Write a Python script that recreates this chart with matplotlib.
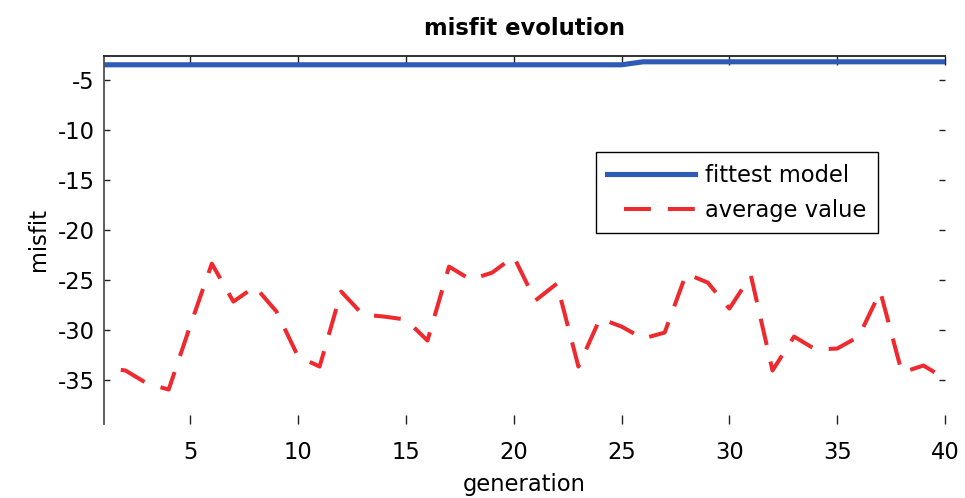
import matplotlib
matplotlib.use("Agg")
import matplotlib.pyplot as plt

plt.rcParams["font.family"] = ["DejaVu Sans"]
plt.rcParams["lines.scale_dashes"] = False
plt.rcParams["axes.unicode_minus"] = False

# generation index
generation = list(range(1, 41))

# best misfit of each generation
fittest_model = [-3.5] * 25 + [-3.2] * 15

# mean misfit of the population
average_value = [
    -33.8, -34.1, -35.4, -36.0, -29.6, -23.4, -27.2, -25.7, -28.2, -32.7,
    -33.7, -26.2, -28.5, -28.7, -29.0, -31.1, -23.7, -25.0, -24.3, -22.7,
    -27.1, -25.4, -33.7, -28.9, -29.7, -30.9, -30.3, -24.4, -25.3, -27.9,
    -24.6, -34.1, -30.7, -32.0, -31.9, -30.7, -26.2, -34.3, -33.6, -34.9,
]

x_ticks = [5, 10, 15, 20, 25, 30, 35, 40]
y_ticks = [-35, -30, -25, -20, -15, -10, -5]

FS = 16.3
W, H = 965, 498
fig = plt.figure(figsize=(W / 100, H / 100), dpi=100)
ax = fig.add_axes([104 / W, 1 - 424 / H, (945 - 104) / W, (424 - 55.5) / H])

ax.plot(generation, fittest_model, color="#2D5BB5", lw=3.7,
        solid_joinstyle="miter", label="fittest model")
ax.plot(generation, average_value, color="#EE2A2E", lw=2.9,
        linestyle=(19.4, (19.4, 12.2)), dash_capstyle="butt",
        label="average value")

ax.set_xlim(1, 40)
ax.set_ylim(-39.45, -2.57)
ax.set_xticks(x_ticks)
ax.set_yticks(y_ticks)

ax.spines["bottom"].set_visible(False)
ax.spines["right"].set_visible(False)
ax.spines["left"].set_color("#505050")
ax.spines["left"].set_linewidth(1.3)
ax.spines["top"].set_color("#202020")
ax.spines["top"].set_linewidth(1.3)

ax.tick_params(axis="x", direction="in", top=True, bottom=True,
               length=6.5, width=1.0, color="#202020",
               labelsize=FS, pad=12)
ax.tick_params(axis="y", direction="in", left=True, right=True,
               length=4.5, width=1.0, color="#202020",
               labelsize=FS, pad=6.5)

ax.set_title("misfit evolution", fontsize=FS, fontweight="bold", pad=14.5)
ax.set_xlabel("generation", fontsize=FS, labelpad=6.5)
ax.set_ylabel("misfit", fontsize=FS, labelpad=6)

leg = ax.legend(loc="upper left", bbox_to_anchor=(595.7 / W, 1 - 152.3 / H),
                bbox_transform=fig.transFigure, fontsize=FS,
                frameon=True, fancybox=False, shadow=False, framealpha=1,
                edgecolor="black", borderpad=0.5, labelspacing=0.55,
                handlelength=3.9, handletextpad=0.45, borderaxespad=0)
leg.get_frame().set_linewidth(1.0)

fig.savefig("out.png", dpi=100)
